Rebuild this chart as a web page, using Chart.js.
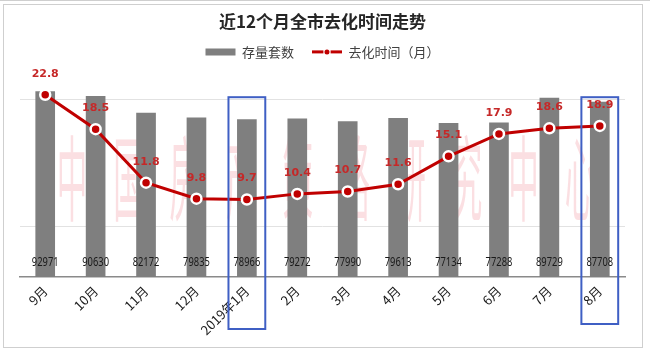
<!DOCTYPE html>
<html>
<head>
<meta charset="utf-8">
<script src="https://cdn.jsdelivr.net/npm/chart.js@4.4.1/dist/chart.umd.min.js"></script>
<style>
  html, body { margin: 0; padding: 0; background: #fff; }
  #wrap { width: 650px; height: 353px; position: relative; }
</style>
</head>
<body>
<div id="wrap"><canvas id="c" width="650" height="353"></canvas></div>
<script>
// ---- data ----
const categories = ['9月','10月','11月','12月','2019年1月','2月','3月','4月','5月','6月','7月','8月'];
const stockUnits = [92971, 90630, 82172, 79835, 78966, 79272, 77990, 79613, 77134, 77288, 89729, 87708];
const destockMonths = [22.8, 18.5, 11.8, 9.8, 9.7, 10.4, 10.7, 11.6, 15.1, 17.9, 18.6, 18.9];
const highlighted = ['2019年1月', '8月'];
const titleText = '近12个月全市去化时间走势';
const seriesNames = ['存量套数', '去化时间（月）'];
const watermarkText = '中国房产策略研究中心';

const RED = '#c00000';
const GRAY = '#7f7f7f';
const LEGEND_LIFT = 7;

const framePlugin = {
  id: 'frame',
  beforeDraw(chart) {
    const lg = chart.legend;
    if (lg && !lg._lifted) { lg.top -= LEGEND_LIFT; lg.bottom -= LEGEND_LIFT; lg._lifted = true; }
    const ctx = chart.ctx;
    ctx.save();
    ctx.fillStyle = '#ffffff';
    ctx.fillRect(0, 0, chart.width, chart.height);
    ctx.strokeStyle = '#cfcfcf';
    ctx.lineWidth = 1;
    ctx.beginPath();
    ctx.moveTo(0, 0.5); ctx.lineTo(chart.width, 0.5);
    ctx.stroke();
    ctx.strokeRect(3.5, 4.5, chart.width - 11, chart.height - 10);
    ctx.restore();
  }
};

const watermarkPlugin = {
  id: 'watermark',
  beforeDatasetsDraw(chart) {
    const ctx = chart.ctx;
    const a = chart.chartArea;
    const chars = Array.from(watermarkText);
    const x0 = a.left + 52, x1 = a.right - 45;
    const step = (x1 - x0) / (chars.length - 1);
    const cy = a.top + 101;
    ctx.save();
    ctx.fillStyle = 'rgba(240,120,135,0.24)';
    ctx.font = '36px "Noto Sans CJK SC"';
    ctx.textAlign = 'center';
    ctx.textBaseline = 'middle';
    chars.forEach((ch, i) => {
      ctx.save();
      ctx.translate(x0 + i * step, cy);
      ctx.scale(0.85, 2.6);
      ctx.fillText(ch, 0, 0);
      ctx.restore();
    });
    ctx.restore();
  }
};

const labelsPlugin = {
  id: 'valueLabels',
  afterDatasetsDraw(chart) {
    const ctx = chart.ctx;
    const a = chart.chartArea;
    const barMeta = chart.getDatasetMeta(0);
    const lineMeta = chart.getDatasetMeta(1);
    ctx.save();
    ctx.textAlign = 'center';
    ctx.textBaseline = 'middle';
    ctx.fillStyle = '#1a1a1a';
    ctx.font = '13px "Noto Sans"';
    barMeta.data.forEach((el, i) => {
      ctx.save();
      ctx.translate(el.x, a.bottom - 15);
      ctx.scale(0.72, 1);
      ctx.fillText(String(stockUnits[i]), 0, 0);
      ctx.restore();
    });
    ctx.fillStyle = '#c62828';
    ctx.font = 'bold 11px "DejaVu Sans"';
    lineMeta.data.forEach((el, i) => {
      ctx.fillText(destockMonths[i].toFixed(1), el.x, el.y - 21);
    });
    ctx.restore();
  }
};

const overlayPlugin = {
  id: 'overlay',
  afterDraw(chart) {
    const ctx = chart.ctx;
    const a = chart.chartArea;
    const xs = chart.scales.x;
    const catW = (a.right - a.left) / categories.length;
    ctx.save();
    ctx.strokeStyle = '#3f5fc4';
    ctx.lineWidth = 2;
    highlighted.forEach(lbl => {
      const idx = categories.indexOf(lbl);
      const cx = xs.getPixelForValue(idx);
      const w = catW * 0.73;
      const top = a.top + 20;
      const bottom = a.bottom + (lbl.length > 3 ? 52 : 47);
      ctx.strokeRect(cx - w / 2, top, w, bottom - top);
    });
    const lg = chart.legend;
    if (lg && lg.legendHitBoxes && lg.legendHitBoxes[1]) {
      const hb = lg.legendHitBoxes[1];
      const bw = lg.options.labels.boxWidth;
      const cy = hb.top + hb.height / 2 - (lg._lifted ? LEGEND_LIFT : 0);
      ctx.fillStyle = RED;
      ctx.fillRect(hb.left, cy - 1.5, bw * 0.38, 3);
      ctx.fillRect(hb.left + bw * 0.62, cy - 1.5, bw * 0.38, 3);
      ctx.beginPath();
      ctx.arc(hb.left + bw / 2, cy, 2.5, 0, Math.PI * 2);
      ctx.fill();
    }
    ctx.restore();
  }
};

new Chart(document.getElementById('c'), {
  data: {
    labels: categories,
    datasets: [
      {
        type: 'bar',
        label: seriesNames[0],
        data: stockUnits,
        backgroundColor: GRAY,
        borderWidth: 0,
        barPercentage: 0.39,
        categoryPercentage: 1,
        yAxisID: 'y',
        order: 1
      },
      {
        type: 'line',
        label: seriesNames[1],
        data: destockMonths,
        borderColor: RED,
        backgroundColor: RED,
        borderWidth: 3,
        pointRadius: 5,
        pointBackgroundColor: RED,
        pointBorderColor: '#ffffff',
        pointBorderWidth: 2.5,
        tension: 0,
        clip: false,
        yAxisID: 'y1',
        order: 0
      }
    ]
  },
  options: {
    responsive: false,
    animation: false,
    devicePixelRatio: 1,
    layout: { padding: { left: 20, right: 25, top: 0, bottom: 0 } },
    plugins: {
      tooltip: { enabled: false },
      title: {
        display: true,
        text: titleText,
        color: '#262626',
        font: { size: 17, weight: 'bold', family: '"Noto Sans CJK SC"' },
        padding: { top: 11, bottom: 3 }
      },
      subtitle: {
        display: true,
        text: '',
        position: 'top',
        weight: 500,
        font: { size: 1 },
        padding: { top: 0, bottom: 0.6 }
      },
      legend: {
        display: true,
        position: 'top',
        labels: {
          boxWidth: 30,
          boxHeight: 7,
          padding: 18,
          color: '#404040',
          font: { size: 13, family: '"Noto Sans CJK SC"' },
          sort: (a, b) => a.datasetIndex - b.datasetIndex,
          generateLabels(chart) {
            const items = Chart.defaults.plugins.legend.labels.generateLabels(chart);
            items.forEach(it => {
              if (it.datasetIndex === 1) {
                it.fillStyle = 'rgba(0,0,0,0)';
                it.strokeStyle = 'rgba(0,0,0,0)';
                it.lineWidth = 0;
              } else {
                it.fillStyle = GRAY;
                it.strokeStyle = GRAY;
                it.lineWidth = 0;
              }
            });
            return items;
          }
        }
      }
    },
    scales: {
      x: {
        type: 'category',
        offset: true,
        grid: { display: false, drawTicks: false },
        border: { display: true, color: '#8a8a8a', width: 1.5 },
        ticks: {
          autoSkip: false,
          minRotation: 45,
          maxRotation: 45,
          padding: 6,
          color: '#1a1a1a',
          font: { size: 13, family: '"Noto Sans CJK SC"' }
        },
        afterFit(s) { s.height = 76; }
      },
      y: {
        type: 'linear',
        position: 'left',
        min: 0,
        max: 100000,
        display: true,
        ticks: { display: false },
        border: { display: false },
        grid: { color: '#e2e2e2', lineWidth: 1, drawTicks: false },
        afterBuildTicks(s) { s.ticks = [{ value: 25500 }, { value: 89000 }]; },
        afterFit(s) { s.width = 0; }
      },
      y1: {
        type: 'linear',
        position: 'right',
        min: 0,
        max: 25,
        display: false
      }
    }
  },
  plugins: [framePlugin, watermarkPlugin, labelsPlugin, overlayPlugin]
});
</script>
</body>
</html>
